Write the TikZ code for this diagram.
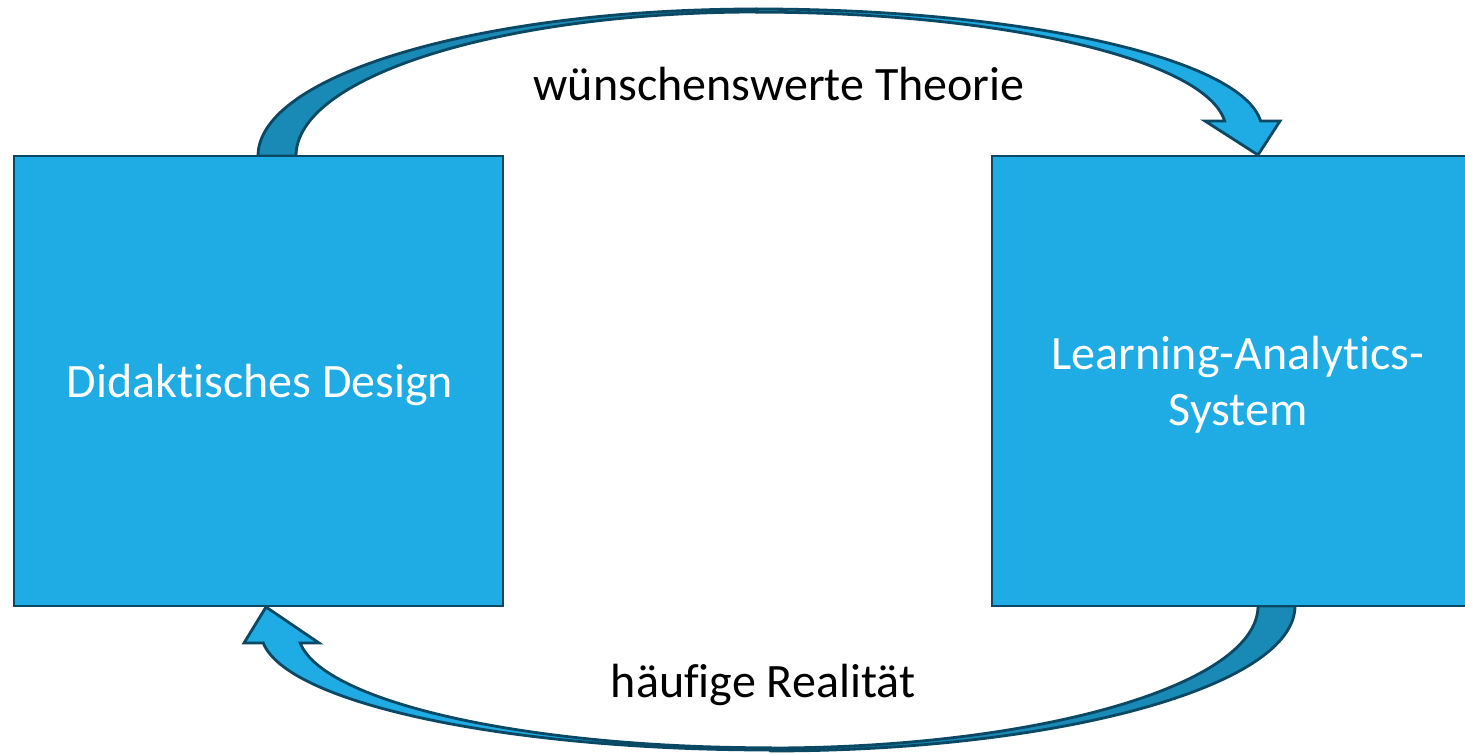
\documentclass[tikz,border=0pt]{standalone}
\usepackage{fontspec}
\setmainfont{Carlito}[Ligatures=NoCommon]
\definecolor{boxblue}{RGB}{31,171,227}
\definecolor{backblue}{RGB}{25,137,182}
\definecolor{edgeblue}{RGB}{10,72,100}
\tikzset{
  block/.style={draw=edgeblue, line width=2.8pt, fill=boxblue, minimum width=489pt,
    minimum height=450pt, inner sep=0pt},
  blocktext/.style={text=white, anchor=base, inner sep=0pt, font=\fontsize{48}{58}\selectfont},
  ribbonback/.style={draw=edgeblue, line width=2.8pt, fill=backblue, line join=round},
  ribbonfront/.style={draw=edgeblue, line width=2.8pt, fill=boxblue, line join=miter},
  caption/.style={text=black, anchor=base, inner sep=0pt, font=\fontsize{48}{58}\selectfont}
}
\begin{document}
\begin{tikzpicture}[x=1pt,y=1pt]
\path[use as bounding box, fill=white] (0,0) rectangle (1465,753);
\clip (0,0) rectangle (1465,753);

% upper curved arrow: back strip rising from the left block
\path[ribbonback] (258,597) arc[start angle=180, end angle=90, x radius=499pt, y radius=147pt]
  -- (757,741) arc[start angle=90, end angle=180, x radius=461pt, y radius=144pt] -- cycle;
% upper curved arrow: front strip with head onto the right block
\path[ribbonfront] (757,744) arc[start angle=90, end angle=4.27, x radius=505pt, y radius=121pt]
  -- (1280,632) -- (1258,598) -- (1205,632) -- (1224.6,632)
  arc[start angle=4.45, end angle=90, x radius=469pt, y radius=118pt] -- cycle;

% lower curved arrow: back strip falling from the right block
\path[ribbonback] (1295,147) arc[start angle=0, end angle=-90, x radius=525pt, y radius=145pt]
  -- (770,5) arc[start angle=-90, end angle=0, x radius=488pt, y radius=142pt] -- cycle;
% lower curved arrow: front strip with head onto the left block
\path[ribbonfront] (770,3) arc[start angle=270, end angle=185.3, x radius=509pt, y radius=118pt]
  -- (244,110) -- (266,146) -- (319,110) -- (300.2,110)
  arc[start angle=185.54, end angle=270, x radius=472pt, y radius=116pt] -- cycle;

% the two blocks
\node[block] (design) at (258.5,372) {};
\node[block] (system) at (1236.5,372) {};
\node[blocktext] (designtext) at (260,355) {Didaktisches Design};
\node[blocktext] (systemtop) at (1238,383) {Learning-Analytics-};
\node[blocktext] (systembottom) at (1238,327) {System};

% arrow captions
\node[caption] (theory) at (779,652) {wünschenswerte Theorie};
\node[caption] (reality) at (763,56) {häufige Realität};
\end{tikzpicture}
\end{document}
